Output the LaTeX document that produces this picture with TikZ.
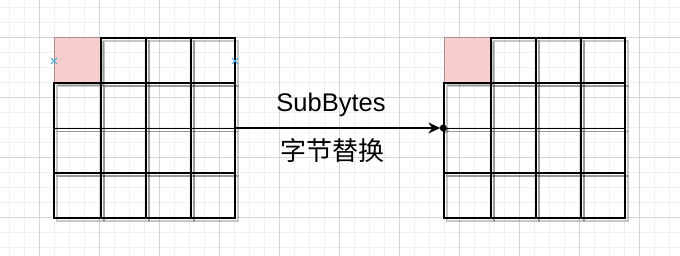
\documentclass[tikz,border=0pt]{standalone}
\usepackage{fontspec}
\setmainfont{Liberation Sans}
\newfontfamily\cjk{Noto Sans CJK SC}
\usetikzlibrary{arrows.meta}
\definecolor{minorgrid}{HTML}{F0F0F0}
\definecolor{majorgrid}{HTML}{D6D6D6}
\definecolor{pinkfill}{HTML}{F8CECC}
\definecolor{pinkline}{HTML}{A89090}
\definecolor{markblue}{HTML}{3DA5E0}
\tikzset{
  cellbox/.style={draw=black, line width=1.4pt},
  cellshadow/.style={draw=black, draw opacity=0.22, line width=1.4pt},
  pinkbox/.style={fill=pinkfill, draw=pinkline, line width=1pt},
  pinkshadow/.style={fill=black, fill opacity=0.22, draw=none},
  markx/.style={draw=markblue, line width=1pt},
  lbl/.style={font=\fontsize{25.5}{28}\selectfont, inner sep=0pt},
  cjklbl/.style={font=\cjk\fontsize{26}{30}\selectfont, inner sep=0pt},
  gridframe/.style={draw=none, minimum width=181pt, minimum height=180pt, inner sep=0pt},
}
\begin{document}
\begin{tikzpicture}[x=1pt,y=-1pt]
\useasboundingbox (0,0) rectangle (680,256);
\fill[white] (0,0) rectangle (680,256);
% background grid
\foreach \x in {9,24,...,679} \draw[minorgrid, line width=0.8pt] (\x,0) -- (\x,256);
\foreach \y in {7.5,22.5,...,255} \draw[minorgrid, line width=0.8pt] (0,\y) -- (680,\y);
\foreach \x in {39,99,...,679} \draw[majorgrid, line width=0.8pt] (\x,0) -- (\x,256);
\foreach \y in {37.5,97.5,...,255} \draw[majorgrid, line width=0.8pt] (0,\y) -- (680,\y);
% frames (named)
\node[gridframe] (left) at (144.5,128) {};
\node[gridframe] (right) at (534,128) {};
% cells
\def\ys{38/83,83/128.5,128.5/173,173/218}
\foreach \ox in {0,390}{
  \foreach \ya/\yb [count=\r] in \ys {
    \foreach \xa/\xb [count=\c] in {54/101,101/146,146/191,191/235}{
      \pgfmathsetmacro{\xaa}{\xa+\ox}
      \pgfmathsetmacro{\xbb}{\xb+\ox}
      \ifnum\r=1 \ifnum\c=1
        \fill[pinkshadow] (\xaa+3,\ya+3) rectangle (\xbb+3,\yb+3);
      \else
        \draw[cellshadow] (\xaa+3,\ya+3) rectangle (\xbb+3,\yb+3);
      \fi\else
        \draw[cellshadow] (\xaa+3,\ya+3) rectangle (\xbb+3,\yb+3);
      \fi
    }
  }
  \foreach \ya/\yb [count=\r] in \ys {
    \foreach \xa/\xb [count=\c] in {54/101,101/146,146/191,191/235}{
      \pgfmathsetmacro{\xaa}{\xa+\ox}
      \pgfmathsetmacro{\xbb}{\xb+\ox}
      \ifnum\r=1 \ifnum\c=1
        \draw[pinkbox] (\xaa,\ya) rectangle (\xbb,\yb);
      \else
        \draw[cellbox] (\xaa,\ya) rectangle (\xbb,\yb);
      \fi\else
        \draw[cellbox] (\xaa,\ya) rectangle (\xbb,\yb);
      \fi
    }
  }
}
% blue connection marks
\coordinate (m1) at (54,61);
\coordinate (m2) at (235,61);
\foreach \m in {m1,m2}{
  \draw[markx] ([shift={(-3,-3)}]\m) -- ([shift={(3,3)}]\m);
  \draw[markx] ([shift={(-3,3)}]\m) -- ([shift={(3,-3)}]\m);
}
% arrow
\fill[black, opacity=0.25] ([shift={(2,2)}]right.west) circle (3.5pt);
\draw[line width=1.3pt, -{Stealth[length=12pt, width=11pt, inset=4pt]}, shorten >=3pt] (left.east) -- (right.west);
\fill[black] (right.west) circle (3.5pt);
% labels
\node[lbl] (t1) at (331,105) {SubBytes};
\node[cjklbl] (t2) at (332,151) {字节替换};
\end{tikzpicture}
\end{document}
